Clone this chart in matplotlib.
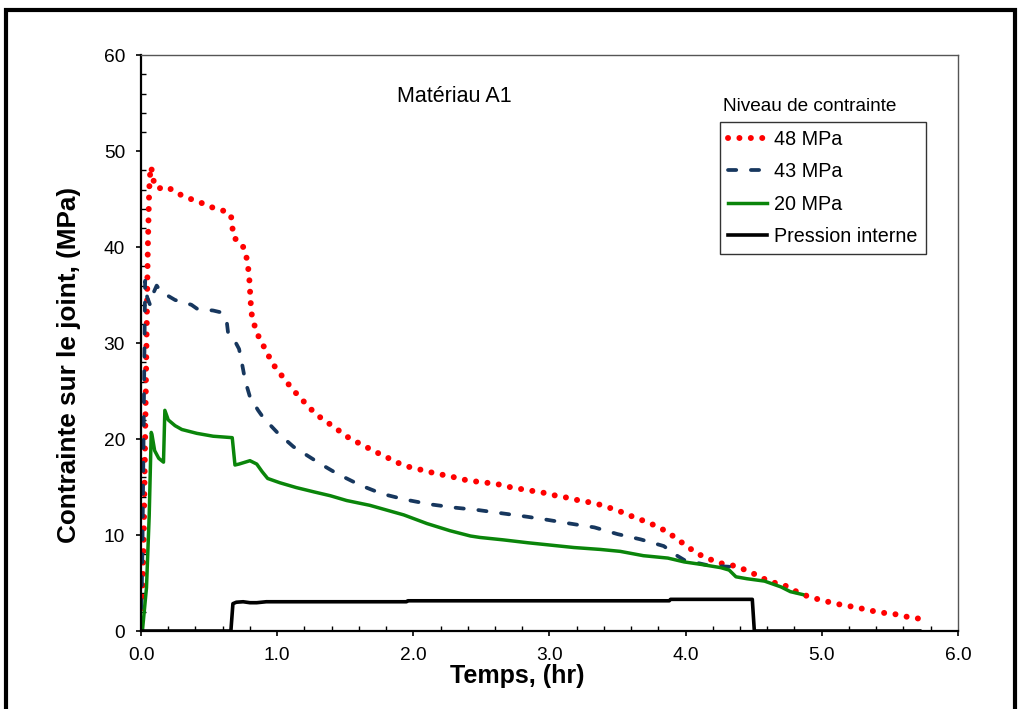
import matplotlib
matplotlib.use("Agg")
import matplotlib.pyplot as plt
from matplotlib.patches import Rectangle
from matplotlib.ticker import MultipleLocator, FormatStrFormatter

plt.rcParams["font.family"] = ["Liberation Sans", "DejaVu Sans"]

# --- 48 MPa ---
t_48 = [0.005, 0.02, 0.03, 0.04, 0.05, 0.06, 0.07, 0.08, 0.09, 0.12, 0.19, 0.27, 0.35,
        0.43, 0.51, 0.59, 0.66, 0.67, 0.68, 0.74, 0.77, 0.785, 0.795, 0.80, 0.805, 0.81,
        0.83, 0.86, 0.90, 0.94, 0.985, 1.04, 1.09, 1.15, 1.21, 1.27, 1.34, 1.41, 1.48,
        1.55, 1.63, 1.70, 1.78, 1.86, 1.94, 2.03, 2.11, 2.19, 2.28, 2.36, 2.45, 2.54,
        2.62, 2.71, 2.79, 2.875, 2.96, 3.05, 3.13, 3.22, 3.30, 3.39, 3.47, 3.55, 3.63,
        3.71, 3.79, 3.87, 3.94, 4.01, 4.08, 4.16, 4.24, 4.33, 4.40, 4.48, 4.55, 4.62,
        4.71, 4.78, 4.86, 4.95, 5.03, 5.12, 5.20, 5.29, 5.37, 5.45, 5.54, 5.62, 5.71]
s_48 = [0.0, 10.0, 20.0, 30.0, 40.0, 46.0, 48.4, 48.0, 47.0, 46.1, 46.3, 45.6, 45.1,
        44.7, 44.2, 43.9, 43.4, 42.2, 41.0, 40.4, 39.3, 38.1, 36.8, 35.6, 34.4, 33.2,
        32.0, 30.8, 29.7, 28.6, 27.5, 26.5, 25.6, 24.6, 23.7, 22.8, 22.0, 21.35, 20.6,
        19.9, 19.4, 18.8, 18.3, 17.7, 17.2, 16.9, 16.6, 16.35, 16.1, 15.8, 15.6, 15.45,
        15.3, 15.0, 14.8, 14.6, 14.4, 14.1, 13.9, 13.6, 13.4, 13.1, 12.7, 12.3, 11.8,
        11.4, 10.9, 10.3, 9.55, 8.85, 8.1, 7.6, 7.1, 6.9, 6.6, 6.1, 5.65, 5.1,
        4.9, 4.35, 3.8, 3.4, 3.1, 2.8, 2.6, 2.35, 2.1, 1.9, 1.75, 1.5, 1.3]

# --- 43 MPa ---
t_43 = [0.0, 0.01, 0.02, 0.03, 0.045, 0.066, 0.09, 0.115, 0.15, 0.19, 0.25, 0.37, 0.41,
        0.53, 0.59, 0.63, 0.64, 0.69, 0.72, 0.74, 0.765, 0.80, 0.86, 0.90, 1.0, 1.12,
        1.22, 1.32, 1.44, 1.61, 1.77, 1.94, 2.125, 2.31, 2.48, 2.66, 2.84, 2.98, 3.15,
        3.33, 3.5, 3.67, 3.84, 3.92, 3.99, 4.18, 4.32]
s_43 = [0.0, 8.0, 22.0, 36.5, 34.8, 34.0, 35.2, 36.0, 35.3, 35.0, 34.5, 34.0, 33.6,
        33.4, 33.2, 32.2, 31.0, 30.2, 29.4, 28.0, 26.1, 24.4, 23.0, 22.2, 20.7, 19.2,
        18.3, 17.4, 16.4, 15.2, 14.3, 13.7, 13.2, 12.85, 12.6, 12.25, 11.9, 11.6, 11.2,
        10.8, 10.1, 9.55, 8.85, 8.0, 7.4, 6.8, 6.7]

# --- 20 MPa ---
t_20 = [0.01, 0.04, 0.06, 0.075, 0.08, 0.10, 0.13, 0.165, 0.175, 0.20, 0.25, 0.30, 0.41,
        0.53, 0.67, 0.69, 0.72, 0.80, 0.85, 0.89, 0.93, 1.02, 1.14, 1.27, 1.39, 1.51,
        1.68, 1.855, 1.93, 2.10, 2.27, 2.42, 2.49, 2.66, 2.84, 3.01, 3.18, 3.375, 3.52,
        3.69, 3.87, 3.99, 4.11, 4.26, 4.32, 4.37, 4.45, 4.58, 4.70, 4.77, 4.86]
s_20 = [0.0, 4.5, 12.0, 20.7, 20.5, 18.8, 18.0, 17.6, 23.0, 22.0, 21.4, 21.0, 20.6,
        20.3, 20.15, 17.3, 17.4, 17.75, 17.4, 16.6, 15.9, 15.45, 14.95, 14.5, 14.1, 13.6,
        13.1, 12.4, 12.1, 11.2, 10.45, 9.9, 9.75, 9.5, 9.2, 8.95, 8.7, 8.5, 8.3,
        7.85, 7.6, 7.2, 6.95, 6.6, 6.35, 5.65, 5.45, 5.2, 4.6, 4.1, 3.8]

# --- Pression interne ---
t_p = [0.0, 0.66, 0.675, 0.70, 0.75, 0.80, 0.85, 0.92, 1.5, 1.95, 1.96, 3.0, 3.88, 3.89,
       4.49, 4.505, 5.72]
s_p = [0.0, 0.0, 2.85, 3.0, 3.05, 2.95, 2.95, 3.05, 3.05, 3.05, 3.15, 3.15, 3.15, 3.3,
       3.3, 0.0, 0.0]

fig = plt.figure(figsize=(10.19, 7.09), dpi=100)
ax = fig.add_axes([0.1384, 0.110, 0.8016, 0.812])

ax.plot(t_48, s_48, color="#FF0000", lw=4.3, linestyle=(0, (0.01, 1.9)),
        dash_capstyle="round", label="48 MPa")
ax.plot(t_43, s_43, color="#17375E", lw=2.7, linestyle=(0, (2.2, 3.9)),
        dash_capstyle="round", label="43 MPa")
ax.plot(t_20, s_20, color="#0A850A", lw=2.5, label="20 MPa")
ax.plot(t_p, s_p, color="black", lw=2.6, label="Pression interne")

ax.set_xlim(0, 6)
ax.set_ylim(0, 60)
ax.xaxis.set_major_locator(MultipleLocator(1.0))
ax.xaxis.set_minor_locator(MultipleLocator(0.2))
ax.xaxis.set_major_formatter(FormatStrFormatter("%.1f"))
ax.yaxis.set_major_locator(MultipleLocator(10))
ax.yaxis.set_minor_locator(MultipleLocator(2))
ax.tick_params(which="major", direction="out", length=3.5, width=1.2, labelsize=13.8, pad=8)
ax.tick_params(which="minor", direction="in", length=3.5, width=1.0)

for s in ("left", "bottom"):
    ax.spines[s].set_linewidth(1.6)
for s in ("top", "right"):
    ax.spines[s].set_linewidth(1.0)
    ax.spines[s].set_color("#555555")

ax.set_xlabel("Temps, (hr)", fontsize=18, fontweight="bold", labelpad=0, x=0.46)
ax.set_ylabel("Contrainte sur le joint, (MPa)", fontsize=18.8, fontweight="bold",
              labelpad=16, y=0.462)

ax.text(0.384, 0.929, "Matériau A1", transform=ax.transAxes, ha="center", va="center",
        fontsize=15.5)
ax.text(0.712, 0.911, "Niveau de contrainte", transform=ax.transAxes, ha="left",
        va="center", fontsize=13.7)

leg = ax.legend(loc="upper left", bbox_to_anchor=(0.709, 0.884), fontsize=14.2,
                frameon=True, fancybox=False, edgecolor="black", handlelength=1.95,
                handletextpad=0.4, borderpad=0.4, labelspacing=0.68, borderaxespad=0)
leg.get_frame().set_linewidth(1.0)

# cadre extérieur du graphique
fig.add_artist(Rectangle((0.006, -0.05), 0.99, 1.036, transform=fig.transFigure,
                         fill=False, lw=3, edgecolor="black"))

fig.savefig("out.png", dpi=100)
